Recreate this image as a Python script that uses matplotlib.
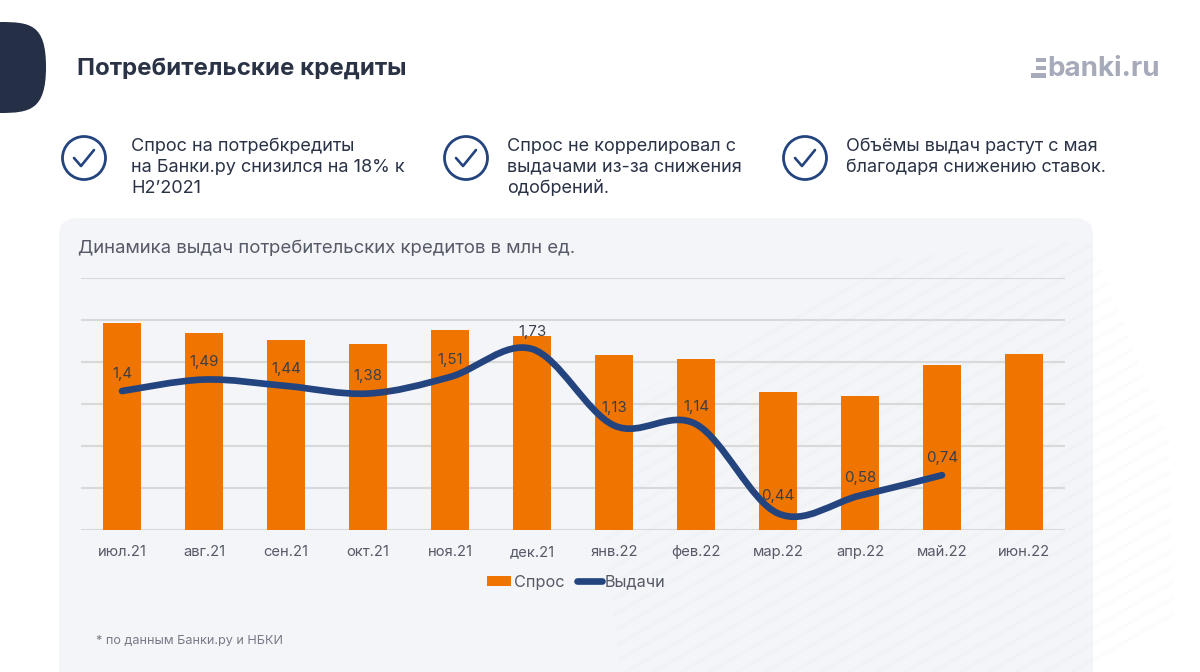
import matplotlib
matplotlib.use('Agg')
import matplotlib.pyplot as plt
import numpy as np
from matplotlib.patches import Circle, FancyBboxPatch, PathPatch, Polygon, Rectangle
from matplotlib.path import Path
from matplotlib.lines import Line2D

plt.rcParams['font.family'] = ['Inter', 'DejaVu Sans']

months = ['июл.21', 'авг.21', 'сен.21', 'окт.21', 'ноя.21', 'дек.21',
          'янв.22', 'фев.22', 'мар.22', 'апр.22', 'май.22', 'июн.22']
demand = [4.91, 4.69, 4.51, 4.43, 4.75, 4.61, 4.16, 4.06, 3.29, 3.18, 3.93, 4.19]
issued = [1.40, 1.49, 1.44, 1.38, 1.51, 1.73, 1.13, 1.14, 0.44, 0.58, 0.74]
issued_labels = ['1,4', '1,49', '1,44', '1,38', '1,51', '1,73', '1,13', '1,14', '0,44', '0,58', '0,74']

bullets = [
    (131, ['Спрос на потребкредиты', 'на Банки.ру снизился на 18% к', 'H2’2021']),
    (507, ['Спрос не коррелировал с', 'выдачами из-за снижения', 'одобрений.']),
    (846, ['Объёмы выдач растут с мая', 'благодаря снижению ставок.']),
]

DARK = '#2a3246'
BLUE = '#24447f'
ORANGE = '#f07400'
GREY = '#555a66'
W, H = 1200, 672


def smooth_path(x, y):
    # catmull-rom, same idea as a smoothed office chart line
    x = np.asarray(x, dtype=float)
    y = np.asarray(y, dtype=float)
    verts = [(x[0], y[0])]
    codes = [Path.MOVETO]
    n = len(x)
    for i in range(n - 1):
        i0 = max(i - 1, 0)
        i3 = min(i + 2, n - 1)
        verts.append((x[i] + (x[i + 1] - x[i0]) / 6, y[i] + (y[i + 1] - y[i0]) / 6))
        verts.append((x[i + 1] - (x[i3] - x[i]) / 6, y[i + 1] - (y[i3] - y[i]) / 6))
        verts.append((x[i + 1], y[i + 1]))
        codes += [Path.CURVE4] * 3
    return Path(verts, codes)


fig = plt.figure(figsize=(12, 6.72), dpi=100, facecolor='white')

# page furniture in pixel coordinates
bg = fig.add_axes([0, 0, 1, 1])
bg.set_xlim(0, W)
bg.set_ylim(H, 0)
bg.axis('off')

panel = FancyBboxPatch((59, 218), 1034, 520, boxstyle='round,pad=0,rounding_size=18',
                       fc='#f4f5f9', ec='none')
bg.add_patch(panel)

# faint diagonal stripes behind the chart
region = Polygon([(620, 672), (590, 420), (880, 260), (1090, 240), (1170, 440), (1175, 672)],
                 closed=True, fc='none', ec='none', transform=bg.transData)
bg.add_patch(region)
for k in range(0, 75):
    y0 = 1000 - k * 16
    seg, = bg.plot([500, 1250], [y0, y0 - 430], color='black', alpha=0.011, lw=3, zorder=1.5)
    seg.set_clip_path(region)

# dark blob at the left edge
blob = Path([(0, 22), (30, 22), (46, 24), (46, 67), (46, 110), (30, 113), (0, 113), (0, 22)],
            [Path.MOVETO, Path.CURVE4, Path.CURVE4, Path.CURVE4, Path.CURVE4, Path.CURVE4, Path.CURVE4,
             Path.CLOSEPOLY])
bg.add_patch(PathPatch(blob, fc='#252f46', ec='none'))

bg.text(77, 68.5, 'Потребительские кредиты', fontsize=17.3, fontweight='bold', color=DARK, va='center')

# logo
for x0, x1, yy in [(1036, 1046, 60), (1036, 1046, 68), (1031, 1046, 75.5)]:
    bg.add_patch(Rectangle((x0, yy - 2.2), x1 - x0, 4.4, fc='#a6aaba', ec='none'))
bg.text(1047, 69, 'banki.ru', fontsize=20, fontweight='bold', color='#a6aaba', va='center')

for (tx, lines), cx in zip(bullets, [84, 466, 805]):
    bg.add_patch(Circle((cx, 158), 21.5, fc='none', ec=BLUE, lw=2.0))
    bg.plot([cx - 10, cx - 3, cx + 10], [158, 166, 150], color=BLUE, lw=1.9,
            solid_capstyle='round', solid_joinstyle='round')
    for i, line in enumerate(lines):
        bg.text(tx, 146 + i * 21.3, line, fontsize=13.0, color=DARK, va='center')

bg.text(78, 248, 'Динамика выдач потребительских кредитов в млн ед.', fontsize=13.4, color=GREY, va='center')
bg.text(96, 640.5, '* по данным Банки.ру и НБКИ', fontsize=9.1, color='#777b86', va='center')

# chart
ax = fig.add_axes([81 / W, 1 - 530 / H, 984 / W, 252.5 / H])
ax.patch.set_alpha(0)
xpos = np.arange(len(months))
ax.bar(xpos, demand, width=0.46, color=ORANGE, zorder=3, label='Спрос')
ax.set_xlim(-0.5, len(months) - 0.5)
ax.set_ylim(0, 6)
ax.set_yticks(range(7))
ax.set_yticklabels([])
ax.set_xticks(xpos)
ax.set_xticklabels(months, fontsize=10.6, color=GREY, va='baseline')
ax.tick_params(axis='both', length=0)
ax.tick_params(axis='x', pad=19)
ax.grid(axis='y', color='#d9d9d9', lw=1.5, zorder=0)
ax.set_axisbelow(True)
for s in ax.spines.values():
    s.set_visible(False)

ax2 = ax.twinx()
ax2.set_ylim(0.31, 0.31 + 252.5 / 127.5)
ax2.axis('off')
ax2.add_patch(PathPatch(smooth_path(xpos[:len(issued)], issued), fc='none', ec=BLUE, lw=4.8,
                        capstyle='round', zorder=5))
for i in range(len(issued)):
    ax2.annotate(issued_labels[i], (xpos[i], issued[i]), xytext=(0, 12.5), textcoords='offset points',
                 ha='center', va='center', fontsize=10.8, color='#3d3f46', zorder=6)

handles = [Rectangle((0, 0), 1, 1, fc=ORANGE, ec='none'),
           Line2D([0], [0], color=BLUE, lw=4.8, solid_capstyle='round')]
leg = fig.legend(handles, ['Спрос', 'Выдачи'], loc='center', bbox_to_anchor=(576 / W, 1 - 582 / H), ncol=2,
                 frameon=False, fontsize=11.7, labelcolor=GREY, handlelength=1.5, handleheight=0.55,
                 handletextpad=0.15, columnspacing=0.8, borderpad=0)

fig.savefig('out.png', dpi=100)
